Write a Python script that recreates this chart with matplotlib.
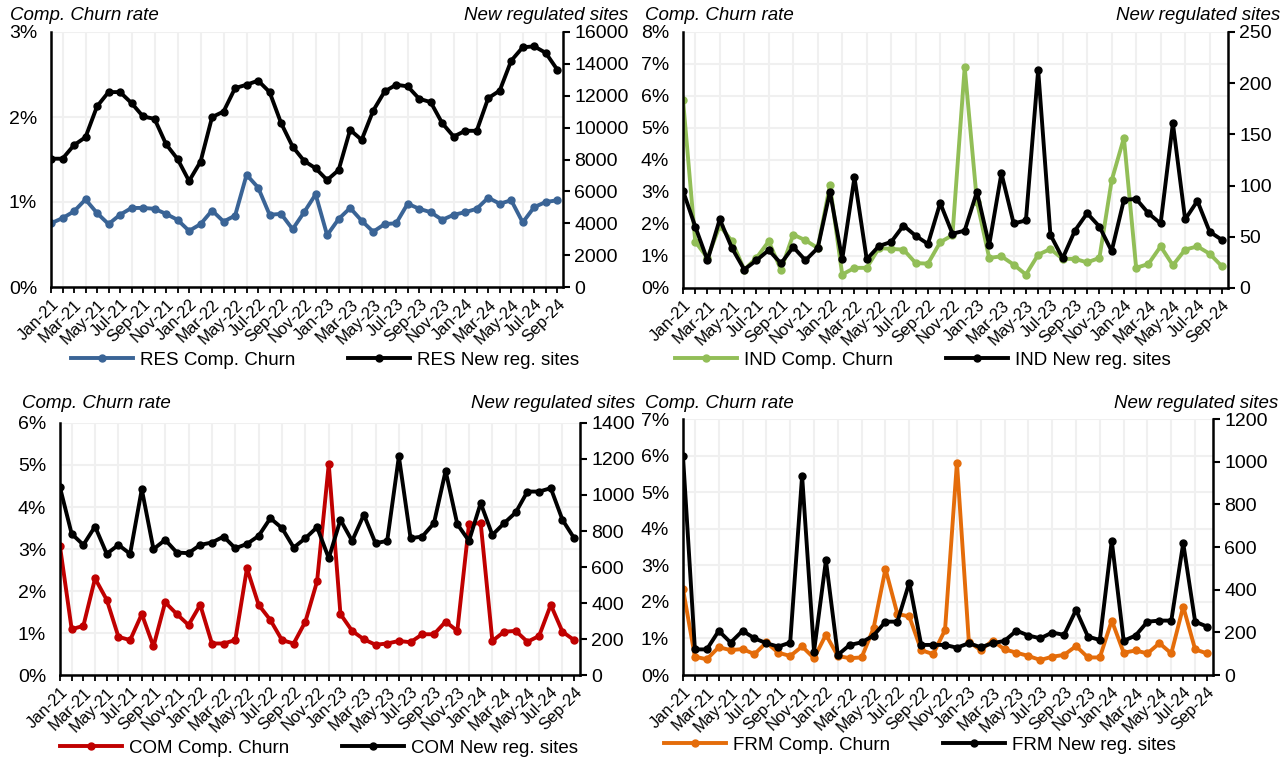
import matplotlib
matplotlib.use('Agg')
import matplotlib.pyplot as plt
from matplotlib.ticker import FuncFormatter
import numpy as np

plt.rcParams['font.family'] = ['Liberation Sans', 'DejaVu Sans']

months = ['Jan-21', 'Feb-21', 'Mar-21', 'Apr-21', 'May-21', 'Jun-21', 'Jul-21', 'Aug-21', 'Sep-21', 'Oct-21', 'Nov-21', 'Dec-21',
          'Jan-22', 'Feb-22', 'Mar-22', 'Apr-22', 'May-22', 'Jun-22', 'Jul-22', 'Aug-22', 'Sep-22', 'Oct-22', 'Nov-22', 'Dec-22',
          'Jan-23', 'Feb-23', 'Mar-23', 'Apr-23', 'May-23', 'Jun-23', 'Jul-23', 'Aug-23', 'Sep-23', 'Oct-23', 'Nov-23', 'Dec-23',
          'Jan-24', 'Feb-24', 'Mar-24', 'Apr-24', 'May-24', 'Jun-24', 'Jul-24', 'Aug-24', 'Sep-24']

res_churn = [0.75, 0.81, 0.89, 1.03, 0.87, 0.74, 0.85, 0.93, 0.93, 0.92, 0.86, 0.79, 0.66, 0.74, 0.90, 0.77, 0.84, 1.32, 1.17,
             0.85, 0.86, 0.68, 0.88, 1.09, 0.61, 0.80, 0.93, 0.78, 0.65, 0.74, 0.75, 0.98, 0.92, 0.88, 0.79, 0.85, 0.88, 0.92,
             1.05, 0.98, 1.02, 0.76, 0.94, 1.00, 1.02]
res_sites = [8050, 8050, 8900, 9400, 11330, 12230, 12230, 11540, 10700, 10550, 8960, 8030, 6650, 7870, 10660, 11010, 12480,
             12690, 12950, 12230, 10280, 8810, 7910, 7450, 6710, 7340, 9860, 9230, 11060, 12270, 12690, 12590, 11810, 11600,
             10280, 9440, 9800, 9800, 11850, 12320, 14200, 15040, 15100, 14690, 13640]

ind_churn = [5.89, 1.45, 0.94, 1.95, 1.46, 0.57, 0.94, 1.46, 0.57, 1.67, 1.49, 1.25, 3.21, 0.42, 0.63, 0.63, 1.25, 1.22,
             1.20, 0.78, 0.76, 1.43, 1.65, 6.90, 2.70, 0.94, 0.99, 0.73, 0.42, 1.04, 1.22, 0.91, 0.91, 0.80, 0.94, 3.36,
             4.69, 0.63, 0.75, 1.30, 0.71, 1.20, 1.30, 1.07, 0.68]
ind_sites = [95, 60, 27, 67, 39, 18, 27, 37, 24, 40, 27, 39, 94, 28, 108, 28, 41, 45, 61, 51, 43, 83, 53, 56, 94, 42, 112,
             63, 66, 213, 52, 29, 56, 73, 60, 36, 86, 87, 73, 63, 161, 67, 85, 55, 47]

com_churn = [3.06, 1.09, 1.17, 2.30, 1.79, 0.91, 0.83, 1.45, 0.68, 1.73, 1.45, 1.19, 1.67, 0.75, 0.75, 0.83, 2.54, 1.67,
             1.31, 0.83, 0.75, 1.27, 2.23, 5.02, 1.45, 1.05, 0.85, 0.72, 0.75, 0.81, 0.78, 0.97, 0.97, 1.27, 1.05, 3.59,
             3.62, 0.81, 1.03, 1.05, 0.79, 0.93, 1.67, 1.03, 0.83]
com_sites = [1042, 784, 723, 825, 673, 723, 673, 1032, 699, 751, 680, 677, 723, 736, 769, 704, 728, 773, 871, 816, 708,
             760, 821, 649, 862, 745, 890, 732, 745, 1214, 760, 769, 843, 1134, 838, 745, 955, 778, 843, 903, 1019, 1019,
             1038, 862, 760]

frm_churn = [2.35, 0.50, 0.43, 0.76, 0.68, 0.71, 0.57, 0.89, 0.61, 0.52, 0.78, 0.46, 1.10, 0.52, 0.46, 0.48, 1.28, 2.90,
             1.67, 1.60, 0.68, 0.57, 1.23, 5.81, 0.91, 0.68, 0.94, 0.70, 0.61, 0.52, 0.41, 0.50, 0.55, 0.79, 0.48, 0.48,
             1.49, 0.61, 0.67, 0.59, 0.87, 0.59, 1.87, 0.70, 0.59]
frm_sites = [1025, 120, 120, 207, 152, 207, 172, 149, 133, 152, 934, 110, 537, 94, 141, 153, 185, 250, 250, 433, 141, 141,
             141, 128, 149, 130, 149, 160, 208, 185, 172, 199, 188, 305, 180, 164, 629, 160, 185, 250, 255, 255, 618, 250, 227]

W, H = 1286, 762
fig = plt.figure(figsize=(W / 100, H / 100), dpi=100)


def px(l, t, r, b):
    return [l / W, 1 - b / H, (r - l) / W, (b - t) / H]


panels = [
    dict(key='RES', churn=res_churn, sites=res_sites, color='#3A6496', box=(51, 32, 563, 287),
         ymax=3, y2max=16000, y2step=2000, title_l=(10, 15), title_r=(628, 15), leg=(325, 360)),
    dict(key='IND', churn=ind_churn, sites=ind_sites, color='#92BE57', box=(683, 32, 1228, 288),
         ymax=8, y2max=250, y2step=50, title_l=(645, 15), title_r=(1280, 15), leg=(923, 360)),
    dict(key='COM', churn=com_churn, sites=com_sites, color='#C00000', box=(60, 423, 580, 675),
         ymax=6, y2max=1400, y2step=200, title_l=(22, 404), title_r=(635, 404), leg=(319, 748)),
    dict(key='FRM', churn=frm_churn, sites=frm_sites, color='#E46C0A', box=(683, 419, 1213, 675),
         ymax=7, y2max=1200, y2step=200, title_l=(645, 404), title_r=(1278, 404), leg=(920, 745)),
]

x = np.arange(len(months))
pct_fmt = FuncFormatter(lambda v, p: f'{v:.0f}%')

for p in panels:
    ax = fig.add_axes(px(*p['box']))
    ax2 = ax.twinx()
    l1, = ax.plot(x, p['churn'], color=p['color'], lw=2.8, marker='o', ms=5,
                  label=f"{p['key']} Comp. Churn", solid_joinstyle='round')
    l2, = ax2.plot(x, p['sites'], color='black', lw=2.8, marker='o', ms=5,
                   label=f"{p['key']} New reg. sites", solid_joinstyle='round')
    ax.set_xlim(0, len(months) - 0.5)
    ax.set_ylim(0, p['ymax'])
    ax2.set_ylim(0, p['y2max'])
    ax.set_yticks(np.arange(0, p['ymax'] + 0.01, 1))
    ax.yaxis.set_major_formatter(pct_fmt)
    ax2.set_yticks(np.arange(0, p['y2max'] + 1, p['y2step']))
    ax.set_xticks(x[::2])
    ax.set_xticklabels(months[::2], rotation=45, ha='right', rotation_mode='anchor', fontsize=12)
    ax.set_xticks(x, minor=True)
    ax.tick_params(axis='x', which='both', length=4, width=1.3, direction='out', pad=3)
    ax.tick_params(axis='y', length=0, labelsize=14, pad=10)
    ax2.tick_params(axis='y', length=5, width=1.5, direction='out', labelsize=14, pad=3)
    for a in (ax, ax2):
        a.spines['top'].set_visible(False)
        for s in ('left', 'right', 'bottom'):
            a.spines[s].set_linewidth(1.8)
    ax.spines['right'].set_visible(False)
    ax2.spines['left'].set_visible(False)
    ax2.spines['bottom'].set_visible(False)
    ax.set_axisbelow(True)
    ax.grid(axis='x', which='minor', color='#f0f0f0', lw=1.5)
    ax.grid(axis='y', which='major', color='#f0f0f0', lw=1.5)
    tl = p['title_l']
    tr = p['title_r']
    fig.text(tl[0] / W, 1 - tl[1] / H, 'Comp. Churn rate', fontsize=13.5, style='italic', ha='left', va='center')
    fig.text(tr[0] / W, 1 - tr[1] / H, 'New regulated sites', fontsize=13.5, style='italic', ha='right', va='center')
    lg = p['leg']
    fig.legend([l1, l2], [l1.get_label(), l2.get_label()], loc='center', bbox_to_anchor=(lg[0] / W, 1 - lg[1] / H),
               ncol=2, frameon=False, fontsize=13.5, handlelength=3.3, columnspacing=2.8, numpoints=1, handletextpad=0.4)

fig.savefig('out.png', dpi=100)
